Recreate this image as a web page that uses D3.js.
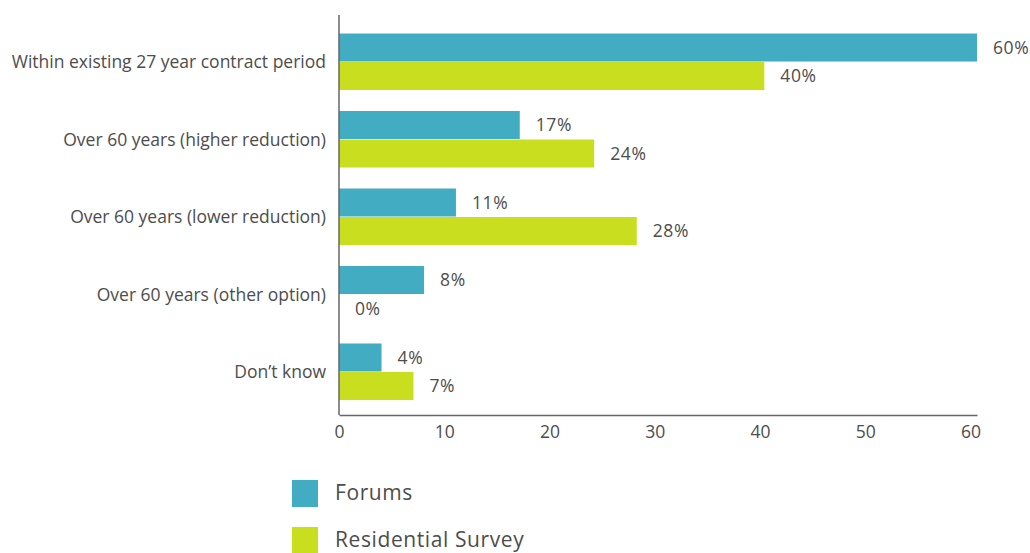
<!DOCTYPE html>
<html>
<head>
<meta charset="utf-8">
<script src="https://cdn.jsdelivr.net/npm/d3@7"></script>
<style>
  html, body { margin: 0; padding: 0; background: #ffffff; }
  svg text { font-family: "Open Sans", "Noto Sans", sans-serif; fill: #4d4d4d; }
</style>
</head>
<body>
<svg id="chart" width="1030" height="553"></svg>
<script>
// Options for shortening the contract, by response source
const categories = [
  "Within existing 27 year contract period",
  "Over 60 years (higher reduction)",
  "Over 60 years (lower reduction)",
  "Over 60 years (other option)",
  "Don\u2019t know"
];
const seriesNames = ["Forums", "Residential Survey"];
const forums = [60, 17, 11, 8, 4];
const residential = [40, 24, 28, 0, 7];
const xTicks = [0, 10, 20, 30, 40, 50, 60];
const colors = ["#42adc2", "#c8de1f"];

const svg = d3.select("#chart");
const plotLeft = 339, plotRight = 977, plotTop = 15, plotBottom = 415;

const x = d3.scaleLinear().domain([0, 60]).range([plotLeft, plotRight]);
const y = d3.scaleBand().domain(categories).range([plotTop, plotBottom + 4])
  .paddingInner(0.2645).paddingOuter(0.239);
const ySub = d3.scaleBand().domain(seriesNames).range([0, y.bandwidth()]);

const values = [forums, residential];

// bars
const groups = svg.append("g").selectAll("g")
  .data(categories)
  .join("g")
  .attr("transform", d => `translate(0,${y(d)})`);

seriesNames.forEach((s, si) => {
  groups.append("rect")
    .attr("x", x(0))
    .attr("y", ySub(s))
    .attr("width", (d, i) => x(values[si][i]) - x(0))
    .attr("height", ySub.bandwidth() - 0.5)
    .attr("fill", colors[si]);
  groups.append("text")
    .attr("x", (d, i) => x(values[si][i]) + 16)
    .attr("y", ySub(s) + ySub.bandwidth() / 2)
    .attr("dy", "0.35em")
    .attr("font-size", 17.5)
    .attr("letter-spacing", 0.6)
    .text((d, i) => values[si][i] + "%");
});

// category labels
svg.append("g").selectAll("text")
  .data(categories)
  .join("text")
  .attr("x", plotLeft - 13)
  .attr("y", d => y(d) + y.bandwidth() / 2)
  .attr("dy", "0.35em")
  .attr("text-anchor", "end")
  .attr("font-size", 17.5)
  .text(d => d);

// axes
const xAxis = svg.append("g")
  .attr("transform", `translate(0,${plotBottom})`)
  .call(d3.axisBottom(x).tickValues(xTicks).tickSize(0).tickPadding(11));
xAxis.select(".domain").attr("stroke", "#666").attr("stroke-width", 1.5);
xAxis.selectAll("text").attr("font-size", 17.5).attr("fill", "#4d4d4d")
  .attr("dx", d => -d * 0.11)
  .style("font-family", "'Open Sans', sans-serif");

svg.append("line")
  .attr("x1", plotLeft).attr("x2", plotLeft)
  .attr("y1", plotTop).attr("y2", plotBottom)
  .attr("stroke", "#666").attr("stroke-width", 1.5);

// legend
const legend = svg.append("g").selectAll("g")
  .data(seriesNames)
  .join("g")
  .attr("transform", (d, i) => `translate(292,${480 + i * 47})`);
legend.append("rect")
  .attr("width", 26).attr("height", 27)
  .attr("fill", (d, i) => colors[i]);
legend.append("text")
  .attr("x", 43).attr("y", 13).attr("dy", "0.35em")
  .attr("font-size", 21)
  .attr("letter-spacing", 0.6)
  .text(d => d);
</script>
</body>
</html>
